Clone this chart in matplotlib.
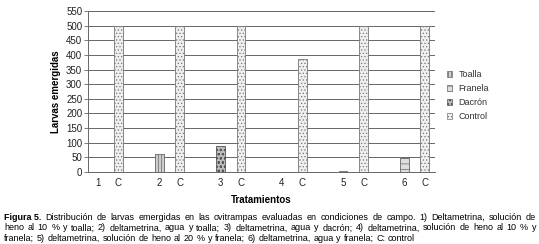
import numpy as np
import matplotlib
matplotlib.use('Agg')
import matplotlib.pyplot as plt

plt.rcParams['font.family'] = ['Liberation Sans', 'DejaVu Sans']
plt.rcParams['hatch.linewidth'] = 0.5

# data
tratamientos = ['1', '2', '3', '4', '5', '6']
material = ['Toalla', 'Toalla', 'Dacrón', 'Franela', 'Franela', 'Franela']
larvas_trat = [0, 61, 88, 0, 5, 48]
larvas_control = [500, 500, 500, 387, 500, 500]
legend_names = ['Toalla', 'Franela', 'Dacrón', 'Control']

styles = {
    'Toalla': dict(facecolor='#cfcfcf', hatch='|||||', edgecolor='#666666'),
    'Franela': dict(facecolor='#dedede', hatch='---', edgecolor='#666666'),
    'Dacrón': dict(facecolor='#bdbdbd', hatch='oooo', edgecolor='#555555'),
    'Control': dict(facecolor='#efefef', hatch='.....', edgecolor='#777777'),
}

fig = plt.figure(figsize=(5.39, 2.44), dpi=100)
ax = fig.add_axes([0.163, 0.295, 0.644, 0.66])

pos_t = np.arange(len(tratamientos)) * 3
pos_c = pos_t + 1
w = 0.42

for x, v, m in zip(pos_t, larvas_trat, material):
    if v > 0:
        ax.bar(x, v, width=w, linewidth=0.6, **styles[m])
ax.bar(pos_c, larvas_control, width=w, linewidth=0.6, **styles['Control'])

ax.set_xlim(-0.5, pos_c[-1] + 0.5)
ax.set_ylim(0, 550)
ax.set_yticks(np.arange(0, 551, 50))
ax.set_xticks(np.concatenate([pos_t, pos_c]))
ax.set_xticklabels(tratamientos + ['C'] * len(tratamientos))
ax.yaxis.grid(True, color='#666666', linewidth=0.7)
ax.set_axisbelow(True)
for s in ['top', 'right']:
    ax.spines[s].set_visible(False)
for s in ['left', 'bottom']:
    ax.spines[s].set_color('#666666')
    ax.spines[s].set_linewidth(0.7)
ax.tick_params(axis='y', labelsize=7, length=3, width=0.6, color='#666666', pad=1, labelcolor='#222222')
ax.tick_params(axis='x', labelsize=7, length=0, pad=4, labelcolor='#222222')
ax.set_ylabel('Larvas emergidas', fontsize=7, fontweight='bold', labelpad=4)
ax.set_xlabel('Tratamientos', fontsize=7, fontweight='bold', labelpad=5)

handles = [plt.Rectangle((0, 0), 1, 1, linewidth=0.5, **styles[n]) for n in legend_names]
leg = fig.legend(handles, legend_names, loc='upper left', bbox_to_anchor=(0.815, 0.745),
                 frameon=False, fontsize=6.5, handlelength=0.55, handleheight=0.55,
                 handletextpad=0.7, labelspacing=0.55)
for t in leg.get_texts():
    t.set_color('#333333')

# caption (first two lines justified)
lines = [
    ('Figura 5.', 'Distribución de larvas emergidas en las ovitrampas evaluadas en condiciones de campo. 1) Deltametrina, solución de', True),
    ('', 'heno al 10 % y toalla; 2) deltametrina, agua y toalla; 3) deltametrina, agua y dacrón; 4) deltametrina, solución de heno al 10 % y', True),
    ('', 'franela; 5) deltametrina, solución de heno al 20 % y franela; 6) deltametrina, agua y franela; C: control', False),
]
fs = 6.5
x_left, x_right = 4 / 539, 536 / 539
fig.canvas.draw()
r = fig.canvas.get_renderer()
tmp1 = fig.text(0, 0, 'a a', fontsize=fs)
tmp2 = fig.text(0, 0, 'aa', fontsize=fs)
space = (tmp1.get_window_extent(r).width - tmp2.get_window_extent(r).width) / fig.bbox.width
tmp1.remove()
tmp2.remove()
y0 = 0.098
for i, (b, rest, just) in enumerate(lines):
    y = y0 - i * 0.042
    items = []
    if b:
        items.append(fig.text(0, y, b, fontsize=fs, fontweight='bold', va='baseline'))
    for wd in rest.split(' '):
        items.append(fig.text(0, y, wd, fontsize=fs, va='baseline'))
    widths = [t.get_window_extent(r).width / fig.bbox.width for t in items]
    if just:
        gap = (x_right - x_left - sum(widths)) / (len(items) - 1)
    else:
        gap = space * 1.1
    x = x_left
    for t, wi in zip(items, widths):
        t.set_x(x)
        x += wi + gap

fig.savefig('out.png', dpi=100)
